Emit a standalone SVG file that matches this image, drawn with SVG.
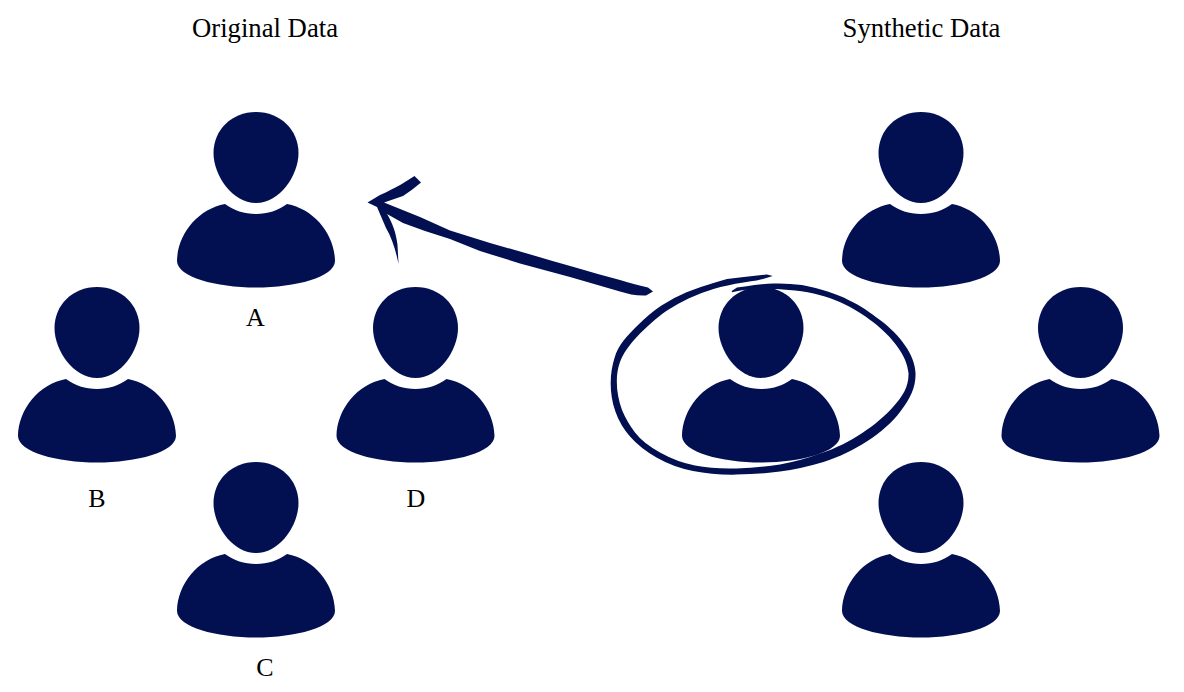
<svg xmlns="http://www.w3.org/2000/svg" width="1184" height="692" viewBox="0 0 1184 692">
<style>
text{font-family:"Liberation Serif","Times New Roman",serif;fill:#000;text-anchor:middle}
.title{font-size:26.7px}
.label{font-size:26px}
.ink{fill:#021052}
</style>
<defs>
<symbol id="person" overflow="visible" width="1" height="1">
<path class="ink" d="M0 0C24.500 0 42.500 18 42.500 41C42.500 63 24 91 0 91C-24 91 -42.500 63 -42.500 41C-42.500 18 -24.500 0 0 0Z"/>
<path class="ink" d="M-31 92C-22 98.500 -12 102 0 102C12 102 22 98.500 31 92C58 97 78.500 122 79 149C78.500 165 40 175.500 0 175.500C-40 175.500 -78.500 165 -79 149C-78.500 122 -58 97 -31 92Z"/>
</symbol>
</defs>
<rect width="1184" height="692" fill="#fff"/>
<text class="title" x="265" y="36.500">Original Data</text>
<text class="title" x="921.500" y="36.500">Synthetic Data</text>
<g id="node-a"><use href="#person" x="256" y="112"/><text class="label" x="255.500" y="325.500">A</text></g>
<g id="node-b"><use href="#person" x="97" y="287"/><text class="label" x="97" y="506.500">B</text></g>
<g id="node-d"><use href="#person" x="415.500" y="287"/><text class="label" x="416" y="506.500">D</text></g>
<g id="node-c"><use href="#person" x="256" y="462"/><text class="label" x="265" y="675.500">C</text></g>
<g id="node-s1"><use href="#person" x="921" y="112"/></g>
<g id="node-s2"><use href="#person" x="761" y="287"/></g>
<g id="node-s3"><use href="#person" x="1080.500" y="287"/></g>
<g id="node-s4"><use href="#person" x="921" y="462"/></g>
<g id="connectors">
<path class="ink" d="M367.500 202.500L380 195C388 191.500 394 188 401 184.500L414.500 176L421 182.500C415 187.500 409 192 403 196L384 202.500L420 217L450 230.500L490 243L527 253.500C560 263 590 272 620 280C630 283 640 286 648 287.500L653 291.500L646 295.500C637 296 628 294 620 291.500L570 277L520 263.500L480 251L450 239L425 231L403 223L387 214C392 222 396 232 397.500 245L398.500 264C396 251 392 238 386 228L377 207Z"/>
<path class="ink" d="M772.700 276L767 274.500Q747 276.700 727 279Q720 281 713.500 282.900Q700 286.700 686.500 292.300Q673 298 661.500 305.500Q650 313 636.500 326.500C628 335 618 345 614.500 358C610 372 608.500 392 615.400 411.500Q620 425 630 436.500Q640 448 656.500 457.500Q673 467 693 471Q713 475 736.500 474.600Q760 474.300 780 471.600Q800 469 823.500 462C855 452 885 432 900 412C911 398 916 386 915.500 373C915 355 900 335 880 320C862 306 840 292 802 285Q787 283 773.500 283.500Q760 284 745 286.500L737 287.500L731.700 291L732 292.300L743 290L760 289L777 289L795 290.500C830 294 855 308 873 322C892 337 907 355 908.500 373C909 386 903 396 893 407C878 424 850 444 821.500 453Q800 461 780 464.400Q760 467.700 736.500 468.400Q713 469 695 465.500Q677 462 660 452.500Q643 443 635 432.500Q627 422 622 410C616 394 615 375 620 362C623 354 628 346 640 333.500Q657 317 667 310.500Q677 304 688.500 298.500Q700 293 713.500 289Q727 285 743.500 282.500Q760 280 763 279Z"/>
</g>
</svg>
